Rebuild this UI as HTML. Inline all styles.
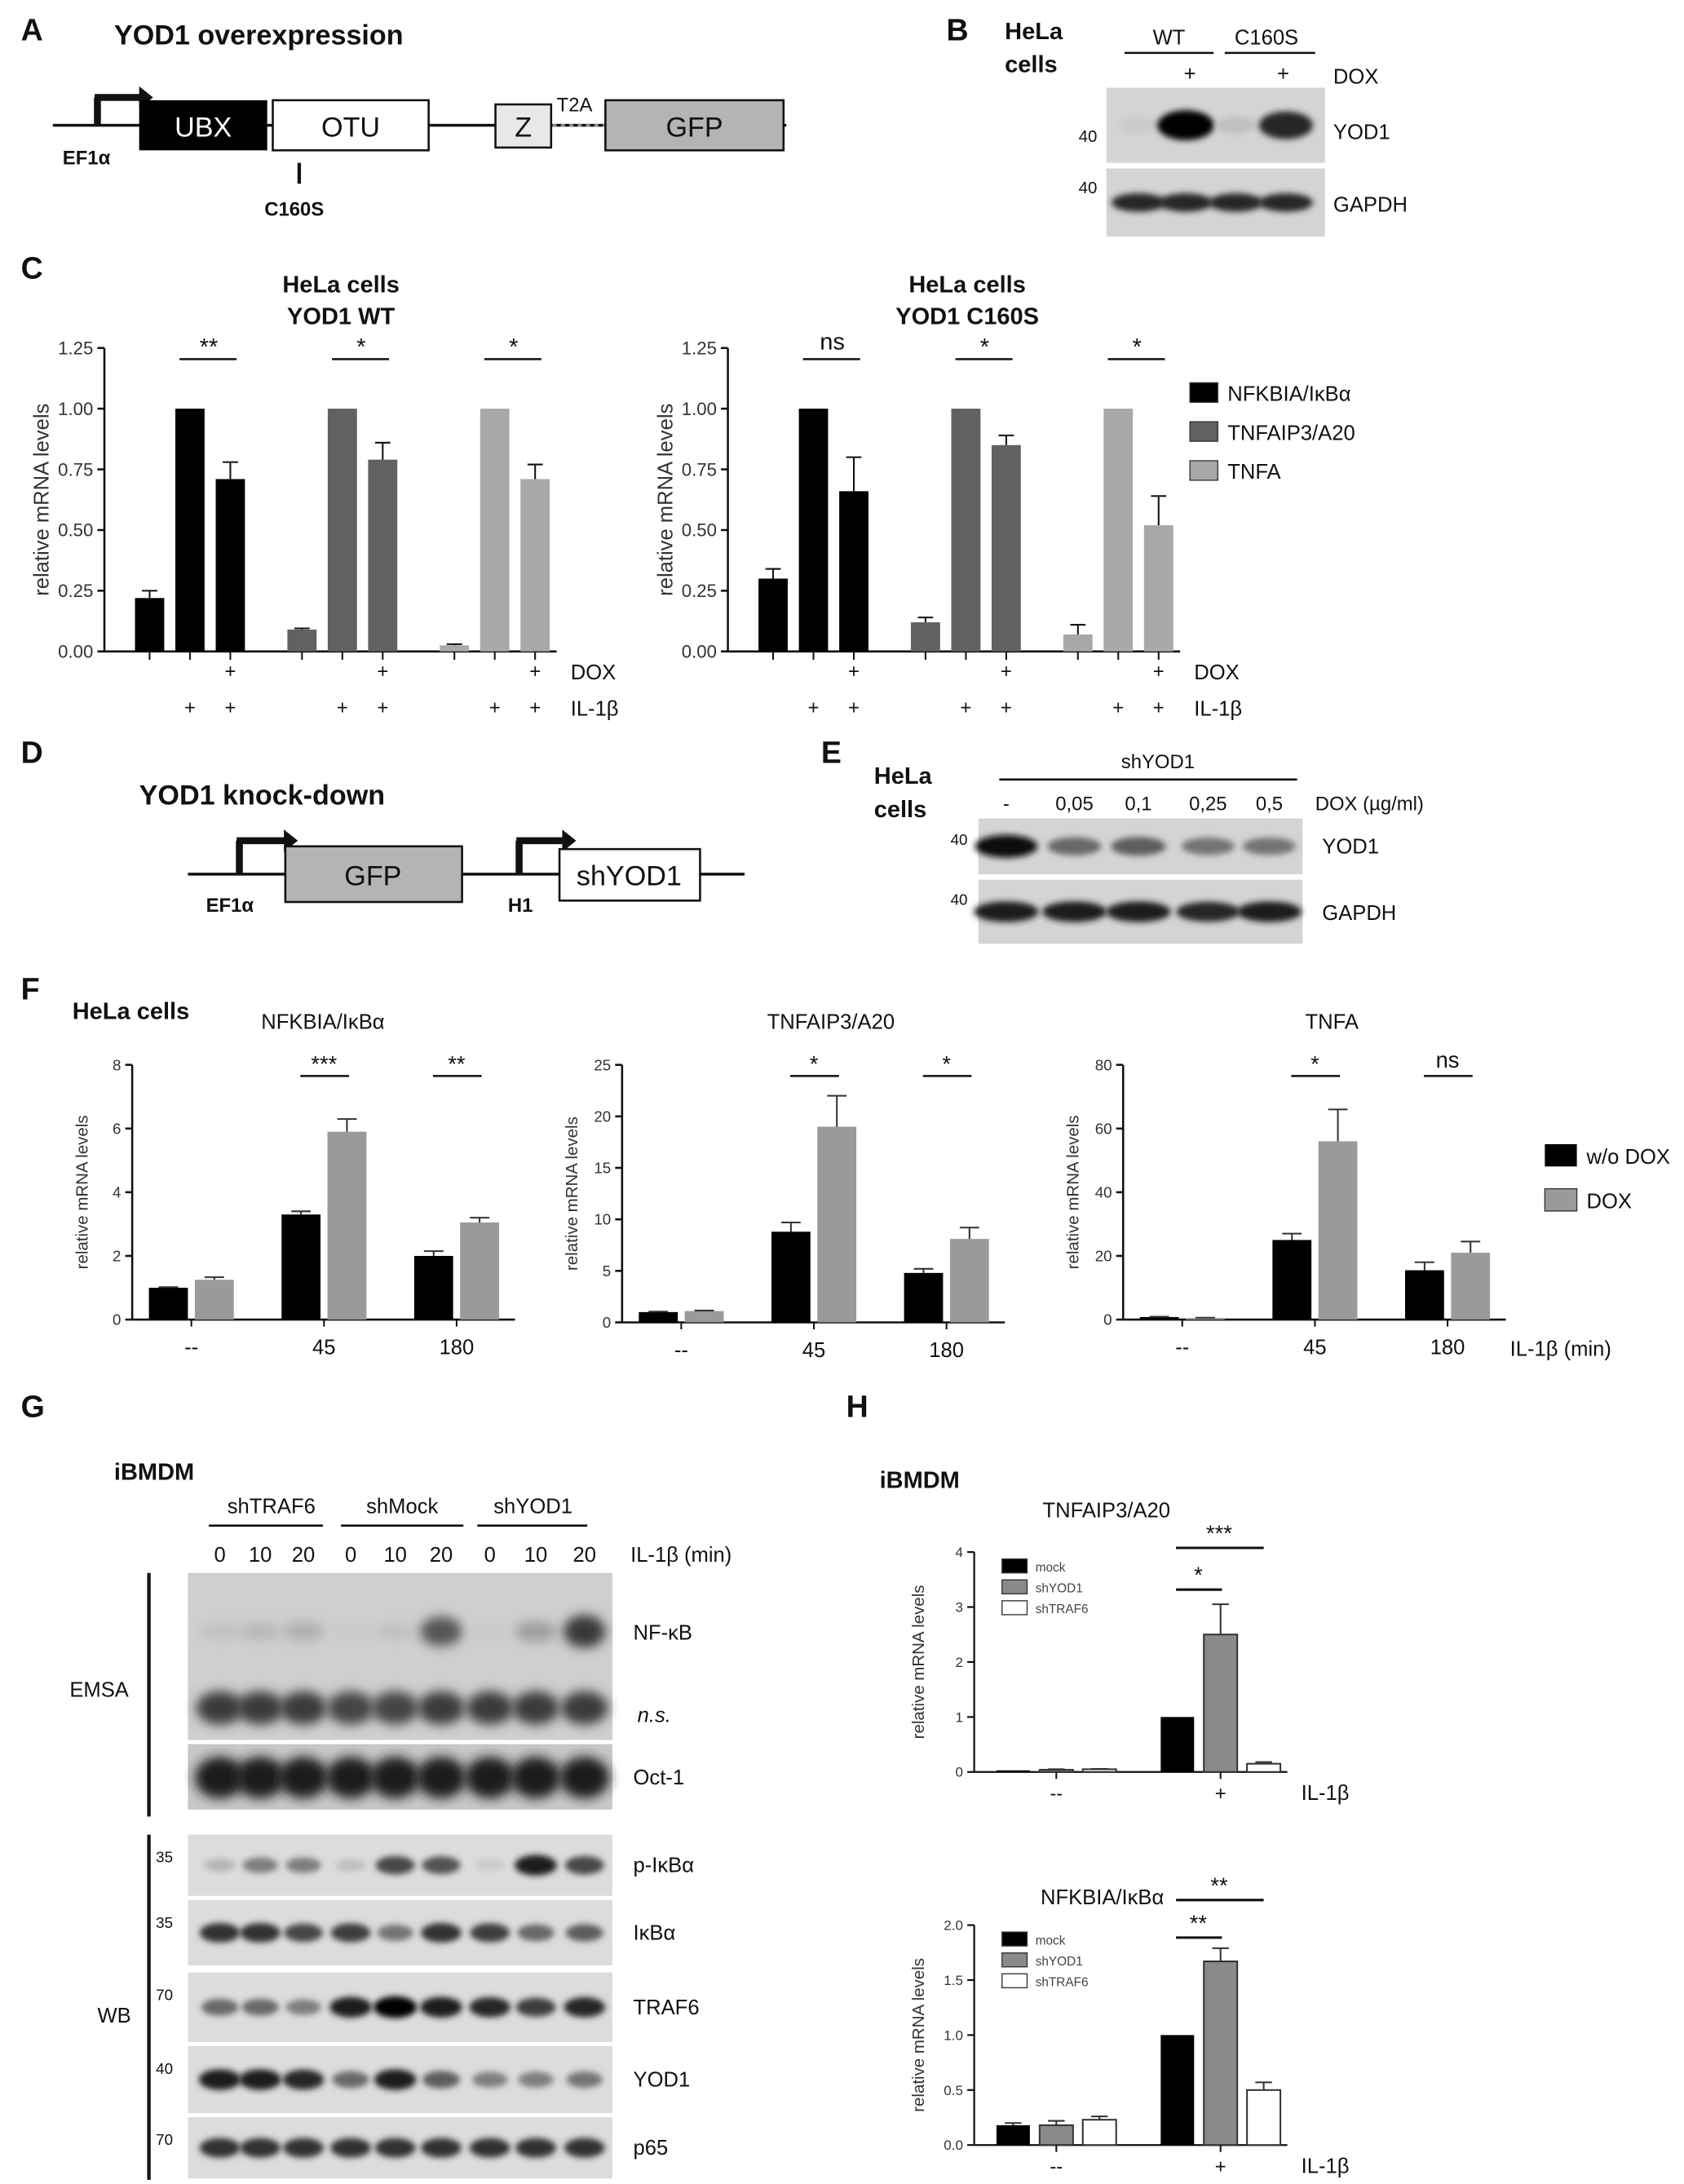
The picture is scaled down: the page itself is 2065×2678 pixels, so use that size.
<!DOCTYPE html>
<html><head><meta charset="utf-8">
<style>
html,body{margin:0;padding:0;background:#fff;}
svg{display:block;}
text{font-family:"Liberation Sans",Arial,sans-serif;}
</style></head>
<body>
<svg id="fig" xmlns="http://www.w3.org/2000/svg" width="2065" height="2678" viewBox="0 0 1210 1569" preserveAspectRatio="none">
<defs>
<filter id="blur2" x="-50%" y="-100%" width="200%" height="300%"><feGaussianBlur stdDeviation="2.2"/></filter>
<filter id="blur4" x="-50%" y="-100%" width="200%" height="300%"><feGaussianBlur stdDeviation="4"/></filter>
</defs>
</svg>
<script>
// ---------- DATA ----------
const cGroups = ['NFKBIA/IκBα','TNFAIP3/A20','TNFA'];
const cWtValues = [0.22,1.0,0.71, 0.09,1.0,0.79, 0.025,1.0,0.71];
const cWtErrors = [0.03,0,0.07, 0.005,0,0.07, 0.005,0,0.06];
const cMutValues = [0.30,1.0,0.66, 0.12,1.0,0.85, 0.07,1.0,0.52];
const cMutErrors = [0.04,0,0.14, 0.02,0,0.04, 0.04,0,0.12];
const cTicks = [0,0.25,0.5,0.75,1.0,1.25];
const cTickLabels = ['0.00','0.25','0.50','0.75','1.00','1.25'];
const cWtSig = ['**','*','*'];
const cMutSig = ['ns','*','*'];

const fCats = ['--','45','180'];
const fNfkbiaNoDox = [1.0,3.3,2.0];
const fNfkbiaNoDoxErr = [0.02,0.1,0.15];
const fNfkbiaDox = [1.25,5.9,3.05];
const fNfkbiaDoxErr = [0.08,0.4,0.15];
const fNfkbiaTicks = [0,2,4,6,8];
const fA20NoDox = [1.0,8.8,4.8];
const fA20NoDoxErr = [0.05,0.9,0.4];
const fA20Dox = [1.1,19,8.1];
const fA20DoxErr = [0.05,3,1.1];
const fA20Ticks = [0,5,10,15,20,25];
const fTnfaNoDox = [0.8,25,15.5];
const fTnfaNoDoxErr = [0.1,2,2.5];
const fTnfaDox = [0.5,56,21];
const fTnfaDoxErr = [0.1,10,3.5];
const fTnfaTicks = [0,20,40,60,80];
const fSigNfkbia = ['***','**'];
const fSigA20 = ['*','*'];
const fSigTnfa = ['*','ns'];

const hCats = ['--','+'];
const hA20Mock = [0.03,1.0];
const hA20ShYod1 = [0.04,2.5];
const hA20ShYod1Err = [0.01,0.55];
const hA20ShTraf6 = [0.05,0.15];
const hA20ShTraf6Err = [0.005,0.03];
const hA20Ticks = [0,1,2,3,4];
const hNfMock = [0.18,1.0];
const hNfMockErr = [0.02,0];
const hNfShYod1 = [0.18,1.67];
const hNfShYod1Err = [0.04,0.12];
const hNfShTraf6 = [0.23,0.5];
const hNfShTraf6Err = [0.03,0.07];
const hNfTicks = [0,0.5,1.0,1.5,2.0];
const hNfTickLabels = ['0.0','0.5','1.0','1.5','2.0'];

// blot band intensities (0..1)
const bYod1 = [0.1,1.0,0.15,0.85];
const bGapdh = [0.85,0.85,0.85,0.85];
const eYod1 = [0.95,0.55,0.6,0.5,0.5];
const eGapdh = [0.9,0.9,0.9,0.85,0.9];
const gNfkb = [0.1,0.15,0.2,0.05,0.1,0.7,0.05,0.3,0.85];
const gNs = [0.8,0.8,0.8,0.75,0.75,0.8,0.8,0.8,0.8];
const gOct1 = [1,1,1,1,1,1,1,1,1];
const gPikba = [0.2,0.45,0.45,0.15,0.7,0.65,0.1,0.9,0.7];
const gIkba = [0.8,0.8,0.7,0.75,0.5,0.8,0.75,0.55,0.6];
const gTraf6 = [0.55,0.55,0.45,0.9,1,0.9,0.85,0.75,0.85];
const gYod1 = [0.9,0.9,0.85,0.55,0.9,0.6,0.45,0.45,0.5];
const gP65 = [0.8,0.8,0.8,0.8,0.8,0.8,0.8,0.8,0.8];

// ---------- HELPERS ----------
const NS='http://www.w3.org/2000/svg';
const svg=document.getElementById('fig');
function mk(tag,attrs,name,parent){
  const el=document.createElementNS(NS,tag);
  for(const k in attrs) el.setAttribute(k,attrs[k]);
  
  
  (parent||svg).appendChild(el);
  return el;
}
function txt(x,y,s,size,name,opt){
  opt=opt||{};
  const el=mk('text',{x:x,y:y,'font-size':size,'text-anchor':opt.anchor||'start'},name,opt.parent);
  if(opt.bold) el.setAttribute('font-weight','bold');
  if(opt.italic) el.setAttribute('font-style','italic');
  el.style.fill=opt.fill||'#111';
  if(opt.rot) el.setAttribute('transform','rotate(-90 '+x+' '+y+')');
  el.textContent=s;
  return el;
}
function line(x1,y1,x2,y2,w,name,opt){
  opt=opt||{};
  const el=mk('line',{x1:x1,y1:y1,x2:x2,y2:y2,stroke:opt.stroke||'#111','stroke-width':w},name,opt.parent);
  if(opt.dash) el.setAttribute('stroke-dasharray',opt.dash);
  return el;
}
function rect(x,y,w,h,fill,name,opt){
  opt=opt||{};
  return mk('rect',{x:x,y:y,width:w,height:h,fill:fill,stroke:opt.stroke||'none','stroke-width':opt.sw||1},name,opt.parent);
}
function promoter(x,yb,yt,x2,name){
  const g=mk('g',{},name);
  line(x,yb,x,yt,5,'promoter-stem',{parent:g});
  line(x-2,yt,x2-8,yt,5,'promoter-arm',{parent:g});
  mk('polygon',{points:(x2-10)+','+(yt-8)+' '+x2+','+yt+' '+(x2-10)+','+(yt+8),fill:'#111'},'promoter-arrowhead',g);
}
function blot(x,y,w,h,lanes,vals,bandH,name,opt){
  opt=opt||{};
  const g=mk('g',{},name);
  rect(x,y,w,h,opt.bg||'#d4d4d4',name+'-membrane',{parent:g});
  const bw=opt.bw||28;
  vals.forEach((v,i)=>{
    const c=Math.round(225-220*v);
    mk('ellipse',{cx:lanes[i],cy:y+h*(opt.pos||0.5),rx:bw/2*(0.8+0.4*v),ry:bandH/2*(0.6+0.6*v),fill:'rgb('+c+','+c+','+c+')',filter:'url(#blur2)'},name+'-band',g);
  });
  return g;
}
function scale(v,ymax,yTop,yBot){return yBot-(v/ymax)*(yBot-yTop);}
function barChart(cfg){
  const g=mk('g',{},cfg.name);
  const y=v=>scale(v,cfg.ymax,cfg.yTop,cfg.yBot);
  line(cfg.x0,cfg.yTop,cfg.x0,cfg.yBot,cfg.aw||1.5,'y-axis',{parent:g});
  line(cfg.x0,cfg.yBot,cfg.xEnd,cfg.yBot,cfg.aw||1.5,'x-axis',{parent:g});
  cfg.ticks.forEach((t,i)=>{
    const ty=y(t);
    line(cfg.x0-5,ty,cfg.x0,ty,cfg.aw||1.5,'y-tick',{parent:g});
    txt(cfg.x0-8,ty+cfg.tfs*0.35,cfg.tickLabels?cfg.tickLabels[i]:String(t),cfg.tfs,'y-tick-label',{anchor:'end',parent:g,fill:'#333'});
  });
  txt(cfg.ylx,(cfg.yTop+cfg.yBot)/2,'relative mRNA levels',cfg.yfs,'y-axis-title',{anchor:'middle',rot:true,parent:g,fill:'#333'});
  cfg.series.forEach((s,si)=>{
    s.values.forEach((v,gi)=>{
      const bx=cfg.gx0+gi*cfg.gstep+si*cfg.bstep;
      const by=y(v);
      rect(bx,by,cfg.bw,cfg.yBot-by,s.fill,'bar-'+s.key+'-'+gi,{parent:g,stroke:s.stroke||'none',sw:1.2});
      if(s.errors&&s.errors[gi]>0){
        const cx=bx+cfg.bw/2, ey=y(v+s.errors[gi]);
        line(cx,by,cx,ey,1.2,'error-bar',{parent:g,stroke:'#333'});
        line(cx-cfg.bw/4,ey,cx+cfg.bw/4,ey,1.2,'error-cap',{parent:g,stroke:'#333'});
      }
    });
  });
  return {g:g,y:y};
}

// ---------- PANEL A ----------
txt(15,29,'A',22,'panel-label-a',{bold:true});
txt(82,32,'YOD1 overexpression',20,'title-a',{bold:true});
line(38,90,565,90,2,'construct-backbone-a');
promoter(70,90,70,110,'promoter-ef1a');
rect(100,72,92,36,'#000','ubx-domain');
txt(146,98,'UBX',20,'ubx-label',{anchor:'middle',fill:'#fff'});
rect(196,72,112,36,'#fff','otu-domain',{stroke:'#111',sw:1.5});
txt(252,98,'OTU',20,'otu-label',{anchor:'middle'});
rect(356,75,40,31,'#e8e8e8','z-domain',{stroke:'#111',sw:1.5});
txt(376,98,'Z',20,'z-label',{anchor:'middle'});
line(397,90,435,90,2,'t2a-linker',{stroke:'#888',dash:'3,3'});
txt(400,80,'T2A',14,'t2a-label');
rect(435,72,128,36,'#b4b4b4','gfp-box-a',{stroke:'#111',sw:1.5});
txt(499,98,'GFP',20,'gfp-label-a',{anchor:'middle'});
txt(45,118,'EF1α',14,'ef1a-label-a',{bold:true});
line(215,117,215,132,2.5,'c160s-marker');
txt(190,155,'C160S',14,'c160s-label',{bold:true});

// ---------- PANEL B ----------
txt(680,29,'B',22,'panel-label-b',{bold:true});
txt(722,28,'HeLa',17,'cells-label-b1',{bold:true});
txt(722,52,'cells',17,'cells-label-b2',{bold:true});
txt(840,32,'WT',15,'wt-label',{anchor:'middle'});
line(808,38,872,38,1.5,'wt-underline');
txt(910,32,'C160S',15,'c160s-header',{anchor:'middle'});
line(880,38,945,38,1.5,'c160s-underline');
txt(855,58,'+',15,'dox-plus-b1',{anchor:'middle'});
txt(922,58,'+',15,'dox-plus-b2',{anchor:'middle'});
txt(958,60,'DOX',15,'dox-label-b');
const bLanes=[818,852,888,924];
blot(795,63,157,54,bLanes,bYod1,18,'yod1-blot-b',{bw:34});
blot(795,121,157,49,bLanes,bGapdh,12,'gapdh-blot-b',{bw:34,pos:0.5});
txt(775,102,'40',12,'mw-40-b1');
txt(775,139,'40',12,'mw-40-b2');
txt(958,100,'YOD1',15,'yod1-label-b');
txt(958,152,'GAPDH',15,'gapdh-label-b');

// ---------- PANEL C ----------
txt(15,200,'C',22,'panel-label-c',{bold:true});
const cFills=['#000','#616161','#a8a8a8'];
function cChart(x0,vals,errs,sig,name,title2,cx){
  txt(cx,210,'HeLa cells',17,name+'-title1',{anchor:'middle',bold:true});
  txt(cx,233,title2,17,name+'-title2',{anchor:'middle',bold:true});
  const ch=barChart({name:name,x0:x0,xEnd:x0+325,yTop:250,yBot:468,ymax:1.25,ticks:cTicks,tickLabels:cTickLabels,tfs:13,yfs:15,ylx:x0-40,gx0:x0+22,gstep:109.5,bstep:29,bw:21,series:[]});
  cGroups.forEach((grp,gi)=>{
    for(let j=0;j<3;j++){
      const v=vals[gi*3+j], e=errs[gi*3+j];
      const bx=x0+22+gi*109.5+j*29, by=ch.y(v);
      rect(bx,by,21,468-by,cFills[gi],'bar-'+grp+'-'+j,{parent:ch.g});
      if(e>0){const ey=ch.y(v+e);line(bx+10.5,by,bx+10.5,ey,1.2,'error-bar',{parent:ch.g});line(bx+5,ey,bx+16,ey,1.2,'error-cap',{parent:ch.g});}
      line(bx+10.5,468,bx+10.5,474,1.2,'x-tick',{parent:ch.g});
      if(j>=1) txt(bx+10.5,513,'+',14,'il1b-plus',{anchor:'middle',parent:ch.g});
      if(j==2) txt(bx+10.5,487,'+',14,'dox-plus',{anchor:'middle',parent:ch.g});
    }
    const sx=x0+22+gi*109.5+29;
    line(sx+3,258,sx+44,258,1.5,'significance-line',{parent:ch.g});
    txt(sx+24,sig[gi]=='ns'?251:255,sig[gi],17,'significance-label',{anchor:'middle',parent:ch.g});
  });
  txt(x0+335,488,'DOX',15,'dox-row-label',{parent:ch.g});
  txt(x0+335,514,'IL-1β',15,'il1b-row-label',{parent:ch.g});
}
cChart(75,cWtValues,cWtErrors,cWtSig,'chart-c-wt','YOD1 WT',245);
cChart(523,cMutValues,cMutErrors,cMutSig,'chart-c-c160s','YOD1 C160S',695);
cGroups.forEach((grp,i)=>{
  const ly=275+i*28;
  rect(855,ly,20,14,cFills[i],'legend-swatch-c',{stroke:'#333',sw:0.8});
  txt(882,ly+13,grp,15,'legend-entry-c');
});

// ---------- PANEL D ----------
txt(15,548,'D',22,'panel-label-d',{bold:true});
txt(100,578,'YOD1 knock-down',20,'title-d',{bold:true});
line(135,628,535,628,2,'construct-backbone-d');
promoter(172,628,604,214,'promoter-ef1a-d');
rect(205,608,127,40,'#b4b4b4','gfp-box-d',{stroke:'#111',sw:1.5});
txt(268,636,'GFP',20,'gfp-label-d',{anchor:'middle'});
promoter(373,628,604,414,'promoter-h1');
rect(402,610,101,37,'#fff','shyod1-box',{stroke:'#111',sw:1.5});
txt(452,636,'shYOD1',20,'shyod1-label-d',{anchor:'middle'});
txt(148,655,'EF1α',14,'ef1a-label-d',{bold:true});
txt(365,655,'H1',14,'h1-label',{bold:true});

// ---------- PANEL E ----------
txt(590,548,'E',22,'panel-label-e',{bold:true});
txt(628,563,'HeLa',17,'cells-label-e1',{bold:true});
txt(628,587,'cells',17,'cells-label-e2',{bold:true});
txt(832,552,'shYOD1',14,'shyod1-header-e',{anchor:'middle'});
line(718,560,932,560,1.5,'shyod1-underline');
const eDoses=['-','0,05','0,1','0,25','0,5'];
const eLanes=[723,772,818,868,912];
eDoses.forEach((d,i)=>txt(eLanes[i],582,d,14,'dose-label',{anchor:'middle'}));
txt(945,582,'DOX (µg/ml)',14,'dox-dose-label');
blot(703,588,233,40,eLanes,eYod1,14,'yod1-blot-e',{bw:38});
blot(703,632,233,46,eLanes,eGapdh,13,'gapdh-blot-e',{bw:40});
txt(683,607,'40',11,'mw-40-e1');
txt(683,650,'40',11,'mw-40-e2');
txt(950,613,'YOD1',15,'yod1-label-e');
txt(950,661,'GAPDH',15,'gapdh-label-e');

// ---------- PANEL F ----------
txt(15,718,'F',22,'panel-label-f',{bold:true});
txt(52,732,'HeLa cells',17,'cells-label-f',{bold:true});
function fChart(cfg){
  txt(cfg.tx,739,cfg.title,15,cfg.name+'-title',{anchor:'middle'});
  const ch=barChart({name:cfg.name,x0:cfg.x0,xEnd:cfg.x0+275,yTop:765,yBot:cfg.yBot,ymax:cfg.ymax,ticks:cfg.ticks,tfs:11,yfs:12,ylx:cfg.x0-32,gx0:cfg.x0+12,gstep:95.3,bstep:33,bw:28,
    series:[{key:'wo-dox',fill:'#000',values:cfg.a,errors:cfg.ae},{key:'dox',fill:'#9a9a9a',values:cfg.b,errors:cfg.be}]});
  fCats.forEach((c,i)=>{
    const cx=cfg.x0+12+i*95.3+30.5;
    line(cx,cfg.yBot,cx,cfg.yBot+5,1.2,'x-tick',{parent:ch.g});
    txt(cx,cfg.yBot+25,c,15,'x-tick-label',{anchor:'middle',parent:ch.g});
    if(i>0){line(cx-17,773,cx+18,773,1.5,'significance-line',{parent:ch.g});
      txt(cx,cfg.sig[i-1]=='ns'?767:770,cfg.sig[i-1],16,'significance-label',{anchor:'middle',parent:ch.g});}
  });
}
fChart({name:'chart-f-nfkbia',title:'NFKBIA/IκBα',tx:232,x0:95,yBot:948,ymax:8,ticks:fNfkbiaTicks,a:fNfkbiaNoDox,ae:fNfkbiaNoDoxErr,b:fNfkbiaDox,be:fNfkbiaDoxErr,sig:fSigNfkbia});
fChart({name:'chart-f-a20',title:'TNFAIP3/A20',tx:597,x0:447,yBot:950,ymax:25,ticks:fA20Ticks,a:fA20NoDox,ae:fA20NoDoxErr,b:fA20Dox,be:fA20DoxErr,sig:fSigA20});
fChart({name:'chart-f-tnfa',title:'TNFA',tx:957,x0:807,yBot:948,ymax:80,ticks:fTnfaTicks,a:fTnfaNoDox,ae:fTnfaNoDoxErr,b:fTnfaDox,be:fTnfaDoxErr,sig:fSigTnfa});
txt(1085,974,'IL-1β (min)',15,'il1b-min-label-f');
rect(1110,822,23,16,'#000','legend-swatch-wo-dox');
txt(1140,836,'w/o DOX',15,'legend-entry-wo-dox');
rect(1110,854,23,16,'#9a9a9a','legend-swatch-dox',{stroke:'#333',sw:0.8});
txt(1140,868,'DOX',15,'legend-entry-dox');

// ---------- PANEL G ----------
txt(15,1018,'G',22,'panel-label-g',{bold:true});
txt(82,1063,'iBMDM',17,'cells-label-g',{bold:true});
const gLanes=[158,187,218,252,284,317,352,385,420];
const gHeaders=[['shTRAF6',195,150,232],['shMock',289,245,333],['shYOD1',383,343,422]];
gHeaders.forEach(h=>{txt(h[1],1087,h[0],15,'group-header-g',{anchor:'middle'});line(h[2],1096,h[3],1096,1.5,'group-underline-g');});
const gTimes=['0','10','20','0','10','20','0','10','20'];
gTimes.forEach((t,i)=>txt(gLanes[i],1122,t,15,'time-label',{anchor:'middle'}));
txt(453,1122,'IL-1β (min)',15,'il1b-min-label-g');
line(107,1130,107,1305,2.5,'emsa-bracket');
line(107,1318,107,1566,2.5,'wb-bracket');
txt(50,1219,'EMSA',15,'emsa-label');
txt(70,1453,'WB',15,'wb-label');
const emsa=mk('g',{},'emsa-blot');
rect(135,1130,305,120,'#cfcfcf','emsa-membrane',{parent:emsa});
gNfkb.forEach((v,i)=>{const c=Math.round(210-180*v);mk('ellipse',{cx:gLanes[i],cy:1172,rx:15,ry:5+8*v,fill:'rgb('+c+','+c+','+c+')',filter:'url(#blur4)'},'nfkb-band',emsa);});
gNs.forEach((v,i)=>{const c=Math.round(210-190*v);mk('ellipse',{cx:gLanes[i],cy:1227,rx:17,ry:12,fill:'rgb('+c+','+c+','+c+')',filter:'url(#blur4)'},'ns-band',emsa);});
const oct=mk('g',{},'oct1-blot');
rect(135,1253,305,47,'#c8c8c8','oct1-membrane',{parent:oct});
gOct1.forEach((v,i)=>mk('ellipse',{cx:gLanes[i],cy:1277,rx:18,ry:15,fill:'#1c1c1c',filter:'url(#blur4)'},'oct1-band',oct));
txt(455,1178,'NF-κB',15,'nfkb-label');
txt(458,1237,'n.s.',15,'ns-label',{italic:true});
txt(455,1282,'Oct-1',15,'oct1-label');
const wbRows=[['p-IκBα',1318,44,gPikba,'35'],['IκBα',1365,47,gIkba,'35'],['TRAF6',1417,50,gTraf6,'70'],['YOD1',1470,48,gYod1,'40'],['p65',1521,44,gP65,'70']];
wbRows.forEach(r=>{
  blot(135,r[1],305,r[2],gLanes,r[3],13,'wb-blot-'+r[0],{bw:26,bg:'#dcdcdc'});
  txt(455,r[1]+r[2]/2+5,r[0],15,'wb-label-'+r[0]);
  txt(112,r[1]+20,r[4],11,'mw-marker-g');
});

// ---------- PANEL H ----------
txt(608,1018,'H',22,'panel-label-h',{bold:true});
txt(632,1069,'iBMDM',17,'cells-label-h',{bold:true});
function hChart(cfg){
  txt(cfg.tx||795,cfg.ty,cfg.title,15,cfg.name+'-title',{anchor:'middle'});
  const ch=barChart({name:cfg.name,x0:700,xEnd:925,yTop:cfg.yTop,yBot:cfg.yBot,ymax:cfg.ymax,ticks:cfg.ticks,tickLabels:cfg.tl,tfs:10,yfs:12,ylx:664,gx0:716,gstep:118,bstep:31,bw:24,aw:1.3,
    series:[{key:'mock',fill:'#000',values:cfg.m,errors:cfg.me},{key:'shyod1',fill:'#8a8a8a',values:cfg.y,errors:cfg.ye,stroke:'#333'},{key:'shtraf6',fill:'#fff',values:cfg.t,errors:cfg.te,stroke:'#333'}]});
  hCats.forEach((c,i)=>{
    const cx=716+i*118+43;
    line(cx,cfg.yBot,cx,cfg.yBot+5,1.2,'x-tick',{parent:ch.g});
    txt(cx,cfg.yBot+20,c,14,'x-tick-label',{anchor:'middle',parent:ch.g});
  });
  txt(935,cfg.yBot+20,'IL-1β',15,'il1b-label-h',{parent:ch.g});
  line(845,cfg.s1y,878,cfg.s1y,1.8,'significance-line',{parent:ch.g});
  txt(861,cfg.s1y-5,cfg.sig1,16,'significance-label',{anchor:'middle',parent:ch.g});
  line(845,cfg.s2y,908,cfg.s2y,1.8,'significance-line',{parent:ch.g});
  txt(876,cfg.s2y-5,cfg.sig2,16,'significance-label',{anchor:'middle',parent:ch.g});
  const leg=[['mock','#000'],['shYOD1','#8a8a8a'],['shTRAF6','#fff']];
  leg.forEach((l,i)=>{const ly=cfg.ly+i*15;rect(720,ly,18,10,l[1],'legend-swatch-h',{parent:ch.g,stroke:'#333',sw:0.8});txt(744,ly+9,l[0],9,'legend-entry-h',{parent:ch.g,fill:'#444'});});
}
hChart({name:'chart-h-a20',title:'TNFAIP3/A20',ty:1090,yTop:1115,yBot:1273,ymax:4,ticks:hA20Ticks,m:hA20Mock,me:[0,0],y:hA20ShYod1,ye:hA20ShYod1Err,t:hA20ShTraf6,te:hA20ShTraf6Err,s1y:1142,s2y:1112,sig1:'*',sig2:'***',ly:1120});
hChart({name:'chart-h-nfkbia',title:'NFKBIA/IκBα',tx:792,ty:1368,yTop:1383,yBot:1541,ymax:2,ticks:hNfTicks,tl:hNfTickLabels,m:hNfMock,me:hNfMockErr,y:hNfShYod1,ye:hNfShYod1Err,t:hNfShTraf6,te:hNfShTraf6Err,s1y:1392,s2y:1365,sig1:'**',sig2:'**',ly:1388});
</script>
</body></html>
